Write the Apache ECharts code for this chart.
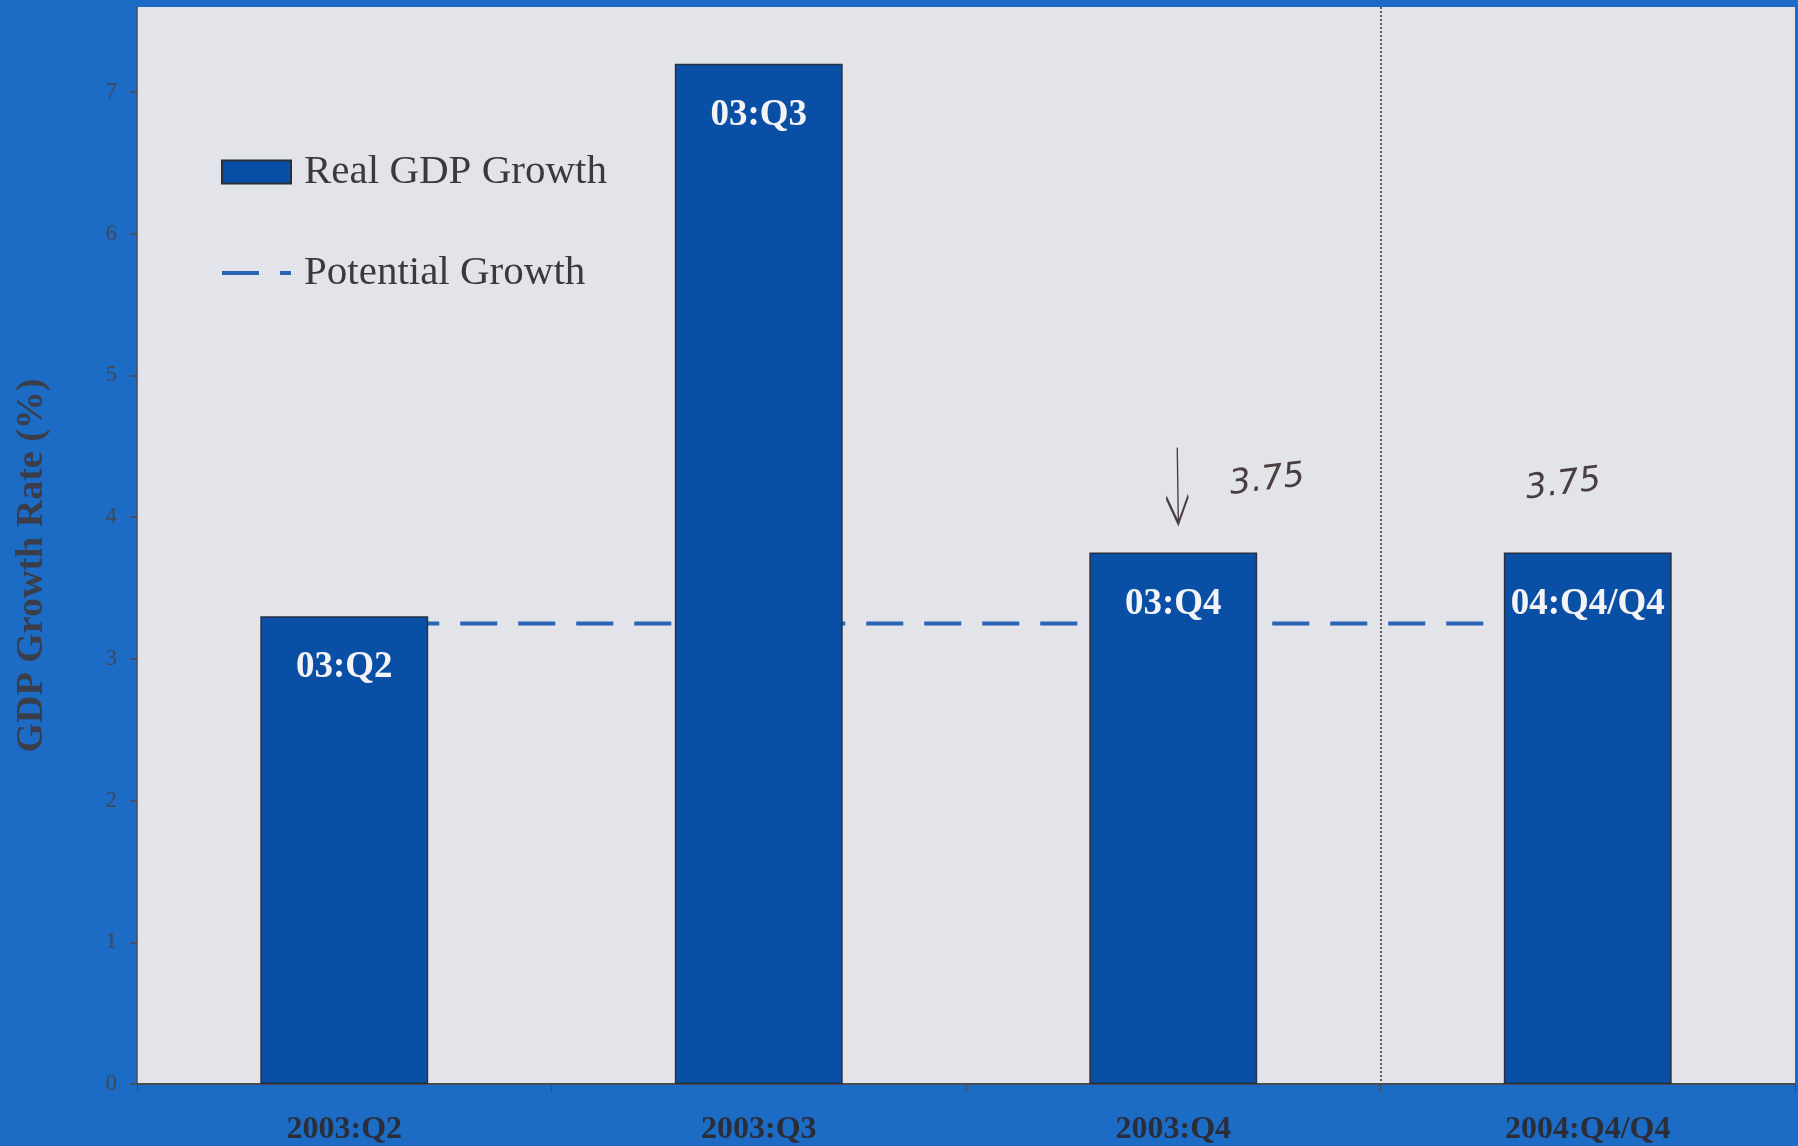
<!DOCTYPE html>
<html>
<head>
<meta charset="utf-8">
<title>Real GDP Growth vs Potential Growth</title>
<script src="https://cdn.jsdelivr.net/npm/echarts@6/dist/echarts.min.js"></script>
<style>
  html, body { margin: 0; padding: 0; background: #1c6cc6; }
  #chart { width: 1798px; height: 1146px; }
</style>
</head>
<body>
<div id="chart"></div>
<script>
// Quarters shown on the category axis
const categories = ['2003:Q2', '2003:Q3', '2003:Q4', '2004:Q4/Q4'];
// Short labels printed inside each bar
const barTags = ['03:Q2', '03:Q3', '03:Q4', '04:Q4/Q4'];
// Real GDP growth, percent at an annual rate
const realGdpGrowth = [3.3, 7.2, 3.75, 3.75];
// Potential growth, percent
const potentialGrowth = [3.25, 3.25, 3.25, 3.25];
// Value-axis ticks
const yTicks = [0, 1, 2, 3, 4, 5, 6, 7];
// First projected period; a dotted divider sits in front of it
const projectionStart = '2004:Q4/Q4';
// Pencilled notes written above bars
const pencilNotes = ['2003:Q4', '2004:Q4/Q4'];

const serif = "'Liberation Serif', 'Times New Roman', serif";
const pencil = '#4b3e40';
const dividerIdx = categories.indexOf(projectionStart);
const arrowIdx = categories.indexOf('2003:Q4');

const chart = echarts.init(document.getElementById('chart'));

const noteOffsets = { '2003:Q4': [102, -60], '2004:Q4/Q4': [-16, -70] };

chart.setOption({
  backgroundColor: '#1c6cc6',
  animation: false,
  grid: {
    left: 137, right: 3, top: 7, bottom: 62,
    show: true, backgroundColor: '#e2e4ea', borderWidth: 0
  },
  legend: {
    orient: 'vertical',
    left: 220, top: 149,
    padding: 0,
    itemWidth: 69, itemHeight: 23,
    itemGap: 55,
    textStyle: {
      fontFamily: serif, fontSize: 41, color: '#3a3a3e',
      lineHeight: 46, padding: [0, 0, 0, 8]
    },
    data: [
      { name: 'Real GDP Growth', icon: 'rect' },
      { name: 'Potential Growth', itemStyle: { opacity: 0 }, lineStyle: { width: 4 } }
    ]
  },
  xAxis: {
    type: 'category',
    data: categories,
    axisLine: { lineStyle: { color: '#4a4a52', width: 2 } },
    axisTick: { show: true, length: 8, lineStyle: { color: '#4a4a52', width: 1 } },
    axisLabel: {
      margin: 30, fontFamily: serif, fontSize: 32, fontWeight: 'bold', color: '#2b2e38'
    },
    splitLine: {
      show: true,
      showMinLine: false,
      showMaxLine: false,
      interval: (i) => i === 0 || i === dividerIdx,
      lineStyle: { color: '#333338', width: 1.5, type: [2, 2] }
    }
  },
  yAxis: {
    type: 'value',
    min: 0, max: 7.6, interval: 1,
    name: 'GDP Growth Rate (%)',
    nameLocation: 'middle',
    nameGap: 86,
    nameTextStyle: {
      fontFamily: serif, fontSize: 38, fontWeight: 'bold', color: '#3a3e4a',
      padding: [0, 40, 0, 0]
    },
    axisLine: { show: true, lineStyle: { color: '#4a4a52', width: 1.5 } },
    axisTick: { show: true, length: 7, customValues: yTicks, lineStyle: { color: '#454a56', width: 1.5 } },
    axisLabel: {
      margin: 20, customValues: yTicks,
      fontFamily: serif, fontSize: 23, color: '#414856'
    },
    splitLine: { show: false }
  },
  series: [
    {
      name: 'Potential Growth',
      type: 'line',
      data: potentialGrowth,
      symbol: 'none',
      z: 1,
      lineStyle: { color: '#2a62b4', width: 4, type: [37, 21] },
      itemStyle: { color: '#2a62b4' }
    },
    {
      name: 'Real GDP Growth',
      type: 'bar',
      data: realGdpGrowth,
      barWidth: '40.5%',
      z: 3,
      itemStyle: { color: '#0a4fa6', borderColor: '#26303f', borderWidth: 1.5 },
      label: {
        show: true,
        position: 'insideTop',
        distance: 33,
        fontFamily: serif, fontSize: 37, fontWeight: 'bold', color: '#f4f4f6',
        formatter: (p) => barTags[p.dataIndex]
      },
      markPoint: {
        symbol: 'circle',
        symbolSize: 1,
        itemStyle: { color: 'transparent' },
        label: {
          show: true,
          position: 'inside',
          fontFamily: "'DejaVu Sans', sans-serif",
          fontStyle: 'italic',
          fontWeight: 'lighter',
          fontSize: 34,
          color: pencil,
          rotate: 7,
          formatter: (p) => p.value.toFixed(2)
        },
        data: pencilNotes.map((c) => {
          const i = categories.indexOf(c);
          return {
            coord: [c, realGdpGrowth[i]],
            value: realGdpGrowth[i],
            label: { offset: noteOffsets[c] }
          };
        }).concat([{
          coord: [categories[arrowIdx], realGdpGrowth[arrowIdx]],
          value: realGdpGrowth[arrowIdx],
          symbol: 'path://M11,0 L12,76 M1,50 L12,76 L21,48',
          symbolSize: [22, 76],
          symbolOffset: [4, -67],
          itemStyle: { color: 'transparent', borderColor: pencil, borderWidth: 2.5 },
          label: { show: false }
        }])
      }
    }
  ]
});
</script>
</body>
</html>
